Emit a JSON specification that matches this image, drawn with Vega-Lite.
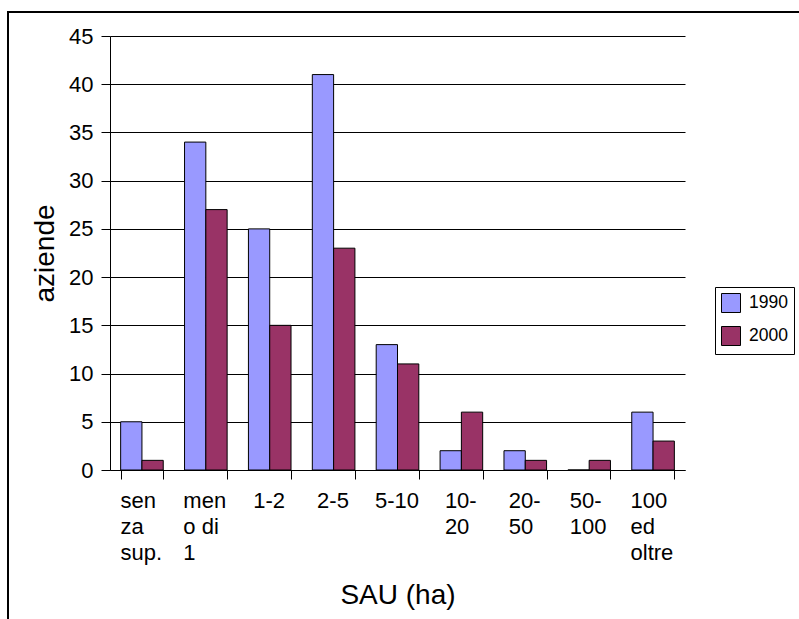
{
  "$schema": "https://vega.github.io/schema/vega-lite/v6.json",
  "width": 795,
  "height": 611,
  "autosize": {"type": "none"},
  "padding": {"left": 8, "top": 12, "right": -4, "bottom": -4},
  "background": "#ffffff",
  "data": {
    "values": [
      {"classe": "senza sup.", "anno": "1990", "aziende": 5},
      {"classe": "senza sup.", "anno": "2000", "aziende": 1},
      {"classe": "meno di 1", "anno": "1990", "aziende": 34},
      {"classe": "meno di 1", "anno": "2000", "aziende": 27},
      {"classe": "1-2", "anno": "1990", "aziende": 25},
      {"classe": "1-2", "anno": "2000", "aziende": 15},
      {"classe": "2-5", "anno": "1990", "aziende": 41},
      {"classe": "2-5", "anno": "2000", "aziende": 23},
      {"classe": "5-10", "anno": "1990", "aziende": 13},
      {"classe": "5-10", "anno": "2000", "aziende": 11},
      {"classe": "10-20", "anno": "1990", "aziende": 2},
      {"classe": "10-20", "anno": "2000", "aziende": 6},
      {"classe": "20-50", "anno": "1990", "aziende": 2},
      {"classe": "20-50", "anno": "2000", "aziende": 1},
      {"classe": "50-100", "anno": "1990", "aziende": 0},
      {"classe": "50-100", "anno": "2000", "aziende": 1},
      {"classe": "100 ed oltre", "anno": "1990", "aziende": 6},
      {"classe": "100 ed oltre", "anno": "2000", "aziende": 3}
    ]
  },
  "mark": {"type": "bar", "stroke": "#000000", "strokeWidth": 1},
  "encoding": {
    "x": {
      "field": "classe",
      "type": "nominal",
      "sort": null,
      "scale": {"range": [102, 677], "paddingInner": 0.3333, "paddingOuter": 0.1667},
      "axis": {
        "title": "SAU (ha)",
        "offset": -153,
        "labelAngle": 0,
        "tickBand": "extent",
        "tickOffset": -10.65,
        "tickSize": 9,
        "tickColor": "#000000",
        "domainColor": "#000000",
        "labelFontSize": 22,
        "labelColor": "#000000",
        "labelAlign": "left",
        "labelBaseline": "top",
        "labelPadding": 11,
        "labelLineHeight": 26,
        "labelOverlap": false,
        "labelExpr": "datum.value == 'senza sup.' ? ['sen', 'za', 'sup.'] : datum.value == 'meno di 1' ? ['men', 'o di', '1'] : datum.value == '10-20' ? ['10-', '20'] : datum.value == '20-50' ? ['20-', '50'] : datum.value == '50-100' ? ['50-', '100'] : datum.value == '100 ed oltre' ? ['100', 'ed', 'oltre'] : datum.label",
        "labelOffset": {
          "condition": [
            {"test": "datum.value == 'senza sup.'", "value": -22},
            {"test": "datum.value == 'meno di 1'", "value": -23},
            {"test": "datum.value == '5-10'", "value": -23},
            {"test": "datum.value == '50-100'", "value": -20},
            {"test": "datum.value == '100 ed oltre'", "value": -23}
          ],
          "value": -17
        },
        "titleFontSize": 28,
        "titleFontWeight": "normal",
        "titleColor": "#000000",
        "titlePadding": 18
      }
    },
    "xOffset": {
      "field": "anno",
      "type": "nominal",
      "scale": {"paddingInner": 0, "paddingOuter": 0}
    },
    "y": {
      "field": "aziende",
      "type": "quantitative",
      "scale": {"domain": [0, 45], "range": [458, 24], "nice": false},
      "axis": {
        "title": "aziende",
        "values": [0, 5, 10, 15, 20, 25, 30, 35, 40, 45],
        "offset": -102,
        "grid": true,
        "gridColor": "#000000",
        "gridWidth": 1,
        "domainColor": "#000000",
        "tickColor": "#000000",
        "tickSize": 9,
        "labelFontSize": 22,
        "labelColor": "#000000",
        "labelPadding": 8,
        "titleFontSize": 28,
        "titleFontWeight": "normal",
        "titleColor": "#000000",
        "titlePadding": 9
      }
    },
    "color": {
      "field": "anno",
      "type": "nominal",
      "scale": {"domain": ["1990", "2000"], "range": ["#9999FF", "#993366"]},
      "legend": {
        "title": null,
        "orient": "none",
        "legendX": 707,
        "legendY": 275,
        "symbolType": "square",
        "symbolSize": 361,
        "symbolStrokeColor": "#000000",
        "symbolStrokeWidth": 1,
        "symbolOpacity": 1,
        "labelFontSize": 17.5,
        "labelColor": "#000000",
        "labelOffset": 8,
        "rowPadding": 9,
        "padding": 6,
        "strokeColor": "#000000",
        "fillColor": "#ffffff"
      }
    }
  },
  "config": {
    "font": "Liberation Sans",
    "view": {"stroke": "#000000", "strokeWidth": 2},
    "axis": {"domainWidth": 1, "tickWidth": 1}
  }
}
